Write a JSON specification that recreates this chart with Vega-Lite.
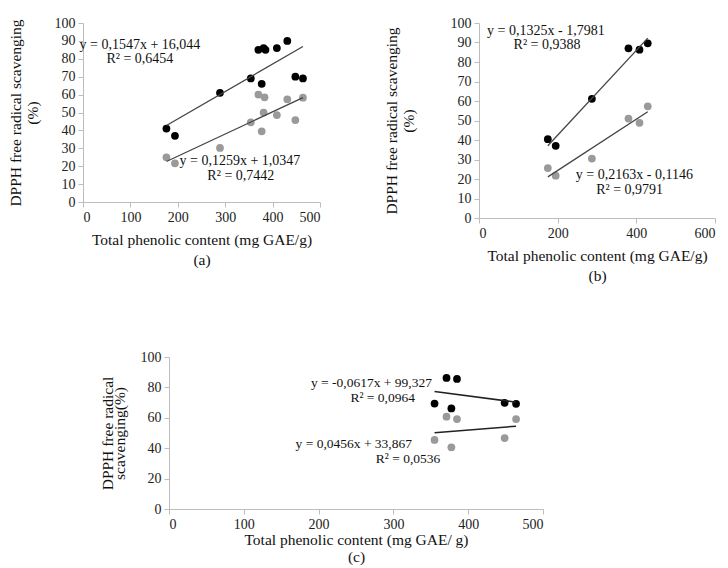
{
  "$schema": "https://vega.github.io/schema/vega-lite/v6.json",
  "padding": {"left": 8, "top": 16, "right": 5, "bottom": 5},
  "background": "white",
  "config": {
    "font": "Liberation Serif",
    "view": {"stroke": null},
    "axis": {
      "domainColor": "#bdbdbd",
      "tickColor": "#bdbdbd",
      "tickSize": 5,
      "labelColor": "#222222",
      "labelFont": "Liberation Serif",
      "labelFontSize": 14,
      "labelPadding": 3,
      "labelOverlap": false,
      "labelSeparation": 0,
      "labelBound": false,
      "titleFont": "Liberation Serif",
      "titleFontSize": 15.5,
      "titleFontWeight": "normal",
      "titleColor": "#111111",
      "grid": false
    }
  },
  "datasets": {
    "pts": [
      {"panel": "a", "series": "A", "x": 176, "y": 41},
      {"panel": "a", "series": "A", "x": 194, "y": 37},
      {"panel": "a", "series": "A", "x": 289, "y": 61},
      {"panel": "a", "series": "A", "x": 354, "y": 69},
      {"panel": "a", "series": "A", "x": 370, "y": 85},
      {"panel": "a", "series": "A", "x": 381, "y": 86},
      {"panel": "a", "series": "A", "x": 385, "y": 85},
      {"panel": "a", "series": "A", "x": 377, "y": 66},
      {"panel": "a", "series": "A", "x": 409, "y": 86},
      {"panel": "a", "series": "A", "x": 431, "y": 90},
      {"panel": "a", "series": "A", "x": 448, "y": 70},
      {"panel": "a", "series": "A", "x": 464, "y": 69},
      {"panel": "a", "series": "B", "x": 176, "y": 25},
      {"panel": "a", "series": "B", "x": 194, "y": 21.6},
      {"panel": "a", "series": "B", "x": 289, "y": 30.2},
      {"panel": "a", "series": "B", "x": 354, "y": 44.5},
      {"panel": "a", "series": "B", "x": 370, "y": 60},
      {"panel": "a", "series": "B", "x": 383, "y": 58.5},
      {"panel": "a", "series": "B", "x": 381, "y": 50},
      {"panel": "a", "series": "B", "x": 377, "y": 39.5},
      {"panel": "a", "series": "B", "x": 409, "y": 48.6},
      {"panel": "a", "series": "B", "x": 431, "y": 57.4},
      {"panel": "a", "series": "B", "x": 448, "y": 45.8},
      {"panel": "a", "series": "B", "x": 464, "y": 58.3},
      {"panel": "b", "series": "A", "x": 175, "y": 40.4},
      {"panel": "b", "series": "A", "x": 195, "y": 37},
      {"panel": "b", "series": "A", "x": 287, "y": 61.1},
      {"panel": "b", "series": "A", "x": 380, "y": 87},
      {"panel": "b", "series": "A", "x": 408, "y": 86.3},
      {"panel": "b", "series": "A", "x": 429, "y": 89.6},
      {"panel": "b", "series": "B", "x": 175, "y": 25.6},
      {"panel": "b", "series": "B", "x": 195, "y": 21.7},
      {"panel": "b", "series": "B", "x": 287, "y": 30.5},
      {"panel": "b", "series": "B", "x": 380, "y": 51},
      {"panel": "b", "series": "B", "x": 408, "y": 48.8},
      {"panel": "b", "series": "B", "x": 429, "y": 57.3},
      {"panel": "c", "series": "A", "x": 355, "y": 69.4},
      {"panel": "c", "series": "A", "x": 371, "y": 86.2},
      {"panel": "c", "series": "A", "x": 385, "y": 85.6},
      {"panel": "c", "series": "A", "x": 377.5, "y": 66.2},
      {"panel": "c", "series": "A", "x": 448.7, "y": 69.9},
      {"panel": "c", "series": "A", "x": 464, "y": 69.2},
      {"panel": "c", "series": "B", "x": 355, "y": 45.4},
      {"panel": "c", "series": "B", "x": 371, "y": 60.7},
      {"panel": "c", "series": "B", "x": 385, "y": 59.2},
      {"panel": "c", "series": "B", "x": 377.5, "y": 40.6},
      {"panel": "c", "series": "B", "x": 448.7, "y": 46.7},
      {"panel": "c", "series": "B", "x": 464, "y": 59.2}
    ],
    "notes": [
      {"panel": "a", "x": 120, "y": 87.9, "t": "y = 0,1547x + 16,044"},
      {"panel": "a", "x": 120, "y": 79.7, "t": "R² = 0,6454"},
      {"panel": "a", "x": 331, "y": 22.9, "t": "y = 0,1259x + 1,0347"},
      {"panel": "a", "x": 333, "y": 14.4, "t": "R² = 0,7442"},
      {"panel": "b", "x": 170, "y": 95.7, "t": "y = 0,1325x - 1,7981"},
      {"panel": "b", "x": 173, "y": 88.6, "t": "R² = 0,9388"},
      {"panel": "b", "x": 395, "y": 22.2, "t": "y = 0,2163x - 0,1146"},
      {"panel": "b", "x": 383, "y": 14.2, "t": "R² = 0,9791"},
      {"panel": "c", "x": 270.7, "y": 83.1, "t": "y = -0,0617x + 99,327"},
      {"panel": "c", "x": 285.7, "y": 72.8, "t": "R² = 0,0964"},
      {"panel": "c", "x": 247, "y": 42.6, "t": "y = 0,0456x + 33,867"},
      {"panel": "c", "x": 319.5, "y": 33.2, "t": "R² = 0,0536"}
    ]
  },
  "spacing": 66,
  "vconcat": [
    {
      "spacing": 63,
      "hconcat": [
        {
          "width": 237,
          "height": 179,
          "layer": [
            {
              "data": {"name": "pts"},
              "transform": [{"filter": "datum.panel === 'a'"}],
              "mark": {"type": "circle", "size": 60, "opacity": 1},
              "encoding": {
                "x": {"field": "x", "type": "quantitative", "scale": {"domain": [0, 500]},
                  "axis": {"values": [0, 100, 200, 300, 400, 500], "labelOverlap": false, "title": ["Total phenolic content (mg GAE/g)", "(a)"], "titleLineHeight": 20, "titlePadding": 8}},
                "y": {"field": "y", "type": "quantitative", "scale": {"domain": [0, 100]},
                  "axis": {"values": [0, 10, 20, 30, 40, 50, 60, 70, 80, 90, 100], "tickCount": 11, "labelOverlap": false, "labelSeparation": 0, "title": ["DPPH free radical scavenging", "(%)"], "titleLineHeight": 17, "titlePadding": 14}},
                "color": {"field": "series", "type": "nominal", "scale": {"domain": ["A", "B"], "range": ["#000000", "#9a9a9a"]}, "legend": null}
              }
            },
            {
              "data": {"name": "pts"},
              "transform": [{"filter": "datum.panel === 'a'"}, {"regression": "y", "on": "x", "groupby": ["series"]}],
              "mark": {"type": "line", "color": "#444444", "strokeWidth": 1.3},
              "encoding": {
                "x": {"field": "x", "type": "quantitative"},
                "y": {"field": "y", "type": "quantitative"},
                "detail": {"field": "series"}
              }
            },
            {
              "data": {"name": "notes"},
              "transform": [{"filter": "datum.panel === 'a'"}],
              "mark": {"type": "text", "fontSize": 14, "font": "Liberation Serif", "color": "#111111", "align": "center", "baseline": "middle"},
              "encoding": {
                "x": {"field": "x", "type": "quantitative"},
                "y": {"field": "y", "type": "quantitative"},
                "text": {"field": "t"}
              }
            }
          ]
        },
        {
          "width": 236,
          "height": 195,
          "layer": [
            {
              "data": {"name": "pts"},
              "transform": [{"filter": "datum.panel === 'b'"}],
              "mark": {"type": "circle", "size": 60, "opacity": 1},
              "encoding": {
                "x": {"field": "x", "type": "quantitative", "scale": {"domain": [0, 600]},
                  "axis": {"values": [0, 200, 400, 600], "labelOverlap": false, "title": ["Total phenolic content (mg GAE/g)", "(b)"], "titleLineHeight": 20, "titlePadding": 8}},
                "y": {"field": "y", "type": "quantitative", "scale": {"domain": [0, 100]},
                  "axis": {"values": [0, 10, 20, 30, 40, 50, 60, 70, 80, 90, 100], "tickCount": 11, "labelOverlap": false, "labelSeparation": 0, "title": ["DPPH free radical scavenging", "(%)"], "titleLineHeight": 17, "titlePadding": 34}},
                "color": {"field": "series", "type": "nominal", "scale": {"domain": ["A", "B"], "range": ["#000000", "#9a9a9a"]}, "legend": null}
              }
            },
            {
              "data": {"name": "pts"},
              "transform": [{"filter": "datum.panel === 'b'"}, {"regression": "y", "on": "x", "groupby": ["series"]}],
              "mark": {"type": "line", "color": "#444444", "strokeWidth": 1.3},
              "encoding": {
                "x": {"field": "x", "type": "quantitative"},
                "y": {"field": "y", "type": "quantitative"},
                "detail": {"field": "series"}
              }
            },
            {
              "data": {"name": "notes"},
              "transform": [{"filter": "datum.panel === 'b'"}],
              "mark": {"type": "text", "fontSize": 14, "font": "Liberation Serif", "color": "#111111", "align": "center", "baseline": "middle"},
              "encoding": {
                "x": {"field": "x", "type": "quantitative"},
                "y": {"field": "y", "type": "quantitative"},
                "text": {"field": "t"}
              }
            }
          ]
        }
      ]
    },
    {
      "spacing": 0,
      "hconcat": [
        {
          "width": 17,
          "height": 10,
          "data": {"values": [{}]},
          "mark": {"type": "text", "text": ""}
        },
        {
          "width": 374,
          "height": 152,
          "layer": [
            {
              "data": {"name": "pts"},
              "transform": [{"filter": "datum.panel === 'c'"}],
              "mark": {"type": "circle", "size": 60, "opacity": 1},
              "encoding": {
                "x": {"field": "x", "type": "quantitative", "scale": {"domain": [0, 500]},
                  "axis": {"values": [0, 100, 200, 300, 400, 500], "labelOverlap": false, "title": ["Total phenolic content (mg GAE/  g)", "(c)"], "titleLineHeight": 17, "titlePadding": 1}},
                "y": {"field": "y", "type": "quantitative", "scale": {"domain": [0, 100]},
                  "axis": {"values": [0, 20, 40, 60, 80, 100], "tickCount": 6, "labelOverlap": false, "labelSeparation": 0, "title": ["DPPH free radical", "scavenging(%)"], "titleLineHeight": 12, "titlePadding": 13}},
                "color": {"field": "series", "type": "nominal", "scale": {"domain": ["A", "B"], "range": ["#000000", "#9a9a9a"]}, "legend": null}
              }
            },
            {
              "data": {"name": "pts"},
              "transform": [{"filter": "datum.panel === 'c'"}, {"regression": "y", "on": "x", "groupby": ["series"]}],
              "mark": {"type": "line", "color": "#222222", "strokeWidth": 1.5},
              "encoding": {
                "x": {"field": "x", "type": "quantitative"},
                "y": {"field": "y", "type": "quantitative"},
                "detail": {"field": "series"}
              }
            },
            {
              "data": {"name": "notes"},
              "transform": [{"filter": "datum.panel === 'c'"}],
              "mark": {"type": "text", "fontSize": 13.5, "font": "Liberation Serif", "color": "#111111", "align": "center", "baseline": "middle"},
              "encoding": {
                "x": {"field": "x", "type": "quantitative"},
                "y": {"field": "y", "type": "quantitative"},
                "text": {"field": "t"}
              }
            }
          ]
        }
      ]
    }
  ]
}
